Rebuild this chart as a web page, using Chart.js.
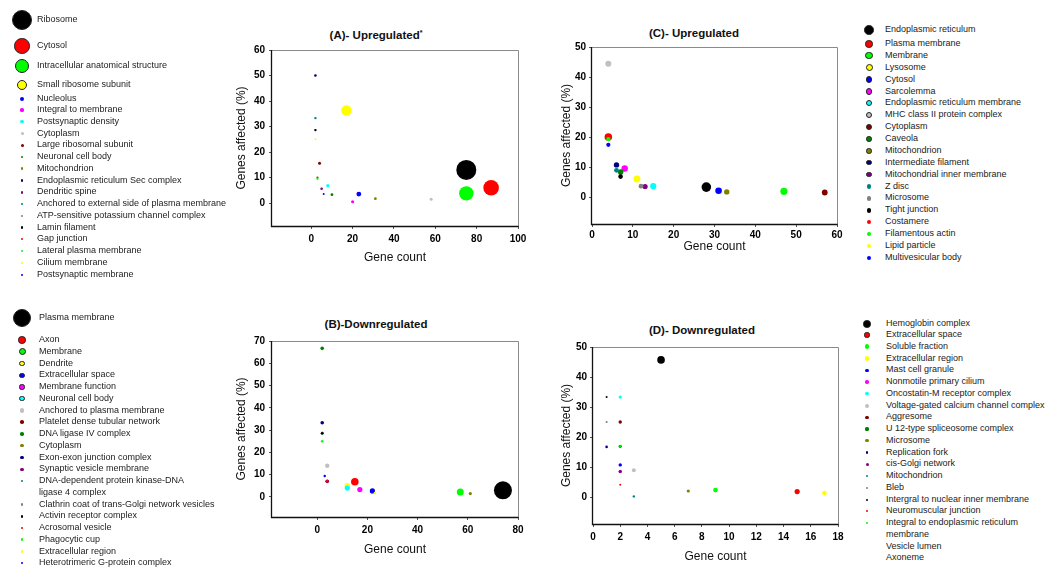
<!DOCTYPE html>
<html>
<head>
<meta charset="utf-8">
<script src="https://cdn.jsdelivr.net/npm/chart.js@4.4.1/dist/chart.umd.min.js"></script>
<style>
  body { margin: 0; background: #fff; width: 1055px; height: 570px; position: relative; overflow: hidden;
         font-family: "Liberation Sans", Arial, sans-serif; }
  canvas { position: absolute; }
  .title { position: absolute; font-weight: bold; font-size: 11.5px; color: #111; white-space: nowrap;
           transform: translate(-50%, -50%); }
  .title sup { font-size: 7px; }
  .lg { position: absolute; font-size: 9px; line-height: 11.75px; color: #222; white-space: nowrap; }
  .mk { position: absolute; border-radius: 50%; box-sizing: border-box; }
</style>
</head>
<body>
<div class="title" style="left:376px;top:35px">(A)- Upregulated<sup>*</sup></div>
<div class="title" style="left:376px;top:324px">(B)-Downregulated</div>
<div class="title" style="left:694px;top:33px">(C)- Upregulated</div>
<div class="title" style="left:702px;top:330px">(D)- Downregulated</div>
<canvas id="chartA" width="320" height="250" style="left:220px;top:20px"></canvas>
<canvas id="chartB" width="320" height="250" style="left:220px;top:310px"></canvas>
<canvas id="chartC" width="305" height="250" style="left:545px;top:15px"></canvas>
<canvas id="chartD" width="305" height="250" style="left:545px;top:315px"></canvas>
<script>
// (A) upregulated
const namesA = ["Ribosome", "Cytosol", "Intracellular anatomical structure", "Small ribosome subunit", "Nucleolus",
  "Integral to membrane", "Postsynaptic density", "Cytoplasm", "Large ribosomal subunit", "Neuronal cell body",
  "Mitochondrion", "Endoplasmic reticulum Sec complex", "Dendritic spine", "Anchored to external side of plasma membrane",
  "ATP-sensitive potassium channel complex", "Lamin filament", "Gap junction", "Lateral plasma membrane",
  "Cilium membrane", "Postsynaptic membrane"];
const countA = [75, 87, 75, 17, 23, 20, 8, 58, 4, 10, 31, 2, 5, 2, 2, 2, 3, 3, 2, 6];
const pctA = [13, 6, 3.8, 36.3, 3.5, 0.5, 6.8, 1.5, 15.6, 3.3, 1.7, 50, 5.6, 33.3, 28.6, 28.6, 10, 9.5, 25, 3.5];

// (B) downregulated
const namesB = ["Plasma membrane", "Axon", "Membrane", "Dendrite", "Extracellular space", "Membrane function",
  "Neuronal cell body", "Anchored to plasma membrane", "Platelet dense tubular network", "DNA ligase IV complex",
  "Cytoplasm", "Exon-exon junction complex", "Synaptic vesicle membrane",
  ["DNA-dependent protein kinase-DNA", "ligase 4 complex"], "Clathrin coat of trans-Golgi network vesicles",
  "Activin receptor complex", "Acrosomal vesicle", "Phagocytic cup", "Extracellular region",
  "Heterotrimeric G-protein complex"];
const countB = [74, 15, 57, 12, 22, 17, 12, 4, 4, 2, 61, 2, 4, 2, 2, 2, 4, 2, 23, 3];
const pctB = [3, 6.8, 2.2, 5, 2.7, 3.3, 4, 14, 7, 66.7, 1.5, 33.3, 7, 28.6, 28.6, 28.6, 7, 25, 1.8, 9.4];

// (C) upregulated
const namesC = ["Endoplasmic reticulum", "Plasma membrane", "Membrane", "Lysosome", "Cytosol", "Sarcolemma",
  "Endoplasmic reticulum membrane", "MHC class II protein complex", "Cytoplasm", "Caveola", "Mitochondrion",
  "Intermediate filament", "Mitochondrial inner membrane", "Z disc", "Microsome", "Tight junction", "Costamere",
  "Filamentous actin", "Lipid particle", "Multivesicular body"];
const countC = [28, 4, 47, 11, 31, 8, 15, 4, 57, 7, 33, 6, 13, 6, 12, 7, 4, 4, 11, 4];
const pctC = [3.3, 20, 1.9, 6, 2.1, 9.5, 3.6, 44.4, 1.5, 8.3, 1.7, 10.7, 3.5, 8.9, 3.6, 6.8, 20, 19.3, 6, 17.4];

// (D) downregulated
const namesD = ["Hemoglobin complex", "Extracellular space", "Soluble fraction", "Extracellular region",
  "Mast cell granule", "Nonmotile primary cilium", "Oncostatin-M receptor complex",
  "Voltage-gated calcium channel complex", "Aggresome", "U 12-type spliceosome complex", "Microsome",
  "Replication fork", "cis-Golgi network", "Mitochondrion", "Bleb", "Intergral to nuclear inner membrane",
  "Neuromuscular junction", ["Integral to endoplasmic reticulum", "membrane"], "Vesicle lumen", "Axoneme"];
const countD = [5, 15, 9, 17, 2, 2, 2, 3, 2, 2, 7, 1, 2, 3, 1, 1, 2, 2, 1, 1];
const pctD = [45.7, 1.8, 2.3, 1.3, 10.7, 8.5, 33.3, 8.9, 25, 16.9, 2, 16.7, 8.5, 0.2, 25, 33.3, 4.1, 16.9, 33.3, 16.7];

// tick labels
const ticksXA = [0, 20, 40, 60, 80, 100];
const ticksYA = [0, 10, 20, 30, 40, 50, 60];
const ticksXB = [0, 20, 40, 60, 80];
const ticksYB = [0, 10, 20, 30, 40, 50, 60, 70];
const ticksXC = [0, 10, 20, 30, 40, 50, 60];
const ticksYC = [0, 10, 20, 30, 40, 50];
const ticksXD = [0, 2, 4, 6, 8, 10, 12, 14, 16, 18];
const ticksYD = [0, 10, 20, 30, 40, 50];

// styles: sigmaplot style colour cycle and symbol radii
const COLORS = ["#000000", "#ff0000", "#00ff00", "#ffff00", "#0000ff", "#ff00ff", "#00ffff", "#c0c0c0",
  "#800000", "#008000", "#808000", "#000080", "#800080", "#008080", "#808080",
  "#000000", "#ff0000", "#00ff00", "#ffff00", "#0000ff"];
const sizeA = [10, 7.8, 7.2, 5.2, 2.4, 1.6, 1.6, 1.5, 1.5, 1.4, 1.4, 1.3, 1.3, 1.2, 1.2, 1.1, 1.1, 1.1, 1, 1];
const sizeB = [9, 3.8, 3.5, 2.8, 2.6, 2.6, 2.6, 2.2, 1.8, 1.8, 1.6, 1.8, 1.6, 1.4, 1.4, 1.3, 1.3, 1.3, 1.2, 1.2];
const sizeC = [4.8, 3.8, 3.6, 3.5, 3.3, 3.2, 3.1, 3, 2.9, 2.8, 2.7, 2.7, 2.6, 2.4, 2.4, 2.3, 2.2, 2.2, 2.1, 2.1];
const sizeD = [3.8, 2.6, 2.3, 2.3, 1.7, 1.7, 1.6, 2, 1.7, 1.6, 1.6, 1.3, 1.5, 1.2, 1.1, 1, 1, 1, 0, 0];

const FONT = "'Liberation Sans', Arial, sans-serif";

// draw the box round the plot area
const framePlugin = {
  id: "frame",
  beforeDatasetsDraw(chart) {
    const { ctx, chartArea: { left, top, right, bottom } } = chart;
    ctx.save();
    ctx.lineWidth = 1;
    ctx.strokeStyle = "#8a8a8a";
    ctx.beginPath();
    ctx.moveTo(left, top + 0.5);
    ctx.lineTo(right + 0.5, top + 0.5);
    ctx.lineTo(right + 0.5, bottom);
    ctx.stroke();
    ctx.strokeStyle = "#111";
    ctx.lineWidth = 1.3;
    ctx.beginPath();
    ctx.moveTo(left - 0.5, top);
    ctx.lineTo(left - 0.5, bottom + 0.5);
    ctx.lineTo(right + 0.5, bottom + 0.5);
    ctx.stroke();
    ctx.restore();
  },
};

const panels = [
  { id: "chartA", x: countA, y: pctA, r: sizeA, xt: ticksXA, yt: ticksYA, xMin: -19, xMax: 100, yMin: -9, yMax: 60,
    box: [220, 20, 320, 250], area: [272, 50, 518, 226], xGap: 7, yGap: 7, xTitlePad: 4.8, yTitlePad: 14.8 },
  { id: "chartB", x: countB, y: pctB, r: sizeB, xt: ticksXB, yt: ticksYB, xMin: -18, xMax: 80, yMin: -9, yMax: 70,
    box: [220, 310, 320, 250], area: [272, 341, 518, 517], xGap: 7, yGap: 7, xTitlePad: 2.8, yTitlePad: 14.8 },
  { id: "chartC", x: countC, y: pctC, r: sizeC, xt: ticksXC, yt: ticksYC, xMin: 0, xMax: 60, yMin: -9, yMax: 50,
    box: [545, 15, 305, 250], area: [592, 47, 837, 224], xGap: 5, yGap: 6, xTitlePad: 10.8, yTitlePad: 14.8 },
  { id: "chartD", x: countD, y: pctD, r: sizeD, xt: ticksXD, yt: ticksYD, xMin: 0, xMax: 18, yMin: -9, yMax: 50,
    box: [545, 315, 305, 250], area: [593, 347, 838, 524], xGap: 7, yGap: 6, xTitlePad: 0.8, yTitlePad: 14.8 },
];

panels.forEach((p) => {
  const [bx, by, bw, bh] = p.box;
  const [L, T, R, B] = p.area;
  new Chart(document.getElementById(p.id), {
    type: "scatter",
    data: {
      datasets: [{
        data: p.x.map((v, i) => ({ x: v, y: p.y[i] })),
        backgroundColor: COLORS,
        borderColor: COLORS,
        borderWidth: 0,
        pointRadius: p.r,
        pointHoverRadius: p.r,
      }],
    },
    options: {
      responsive: false,
      animation: false,
      events: [],
      layout: { padding: { left: 0, top: T - by, right: bx + bw - R, bottom: 0 } },
      plugins: { legend: { display: false }, tooltip: { enabled: false } },
      scales: {
        x: {
          type: "linear", min: p.xMin, max: p.xMax,
          afterBuildTicks: (s) => { s.ticks = p.xt.map((v) => ({ value: v })); },
          afterFit: (s) => { s.height = by + bh - B; },
          grid: { drawOnChartArea: false, tickLength: 3, color: "#555" },
          border: { display: false },
          ticks: { padding: p.xGap - 3, autoSkip: false, maxRotation: 0, color: "#000",
                   font: { family: FONT, size: 10, weight: "bold" } },
          title: { display: true, text: "Gene count", color: "#111",
                   font: { family: FONT, size: 12 }, padding: { top: 0, bottom: p.xTitlePad } },
        },
        y: {
          type: "linear", min: p.yMin, max: p.yMax,
          afterBuildTicks: (s) => { s.ticks = p.yt.map((v) => ({ value: v })); },
          afterFit: (s) => { s.width = L - bx; },
          grid: { drawOnChartArea: false, tickLength: 3, color: "#555" },
          border: { display: false },
          ticks: { padding: p.yGap - 3, autoSkip: false, color: "#000",
                   font: { family: FONT, size: 10, weight: "bold" } },
          title: { display: true, text: "Genes affected (%)", color: "#111",
                   font: { family: FONT, size: 12 }, padding: { top: p.yTitlePad, bottom: 0 } },
        },
      },
    },
    plugins: [framePlugin],
  });
});

// legends, drawn as html beside each plot
const legends = [
  { names: namesA, r: sizeA, mx: 22, tx: 37, top: [20, 46, 66, 85, 99], y0: 110, dy: 11.75 },
  { names: namesB, r: sizeB, mx: 22, tx: 39, top: [318], y0: 340, dy: 11.75 },
  { names: namesC, r: sizeC, mx: 869, tx: 885, top: [30], y0: 44, dy: 11.88 },
  { names: namesD, r: sizeD, mx: 867, tx: 886, top: [324], y0: 335, dy: 11.75 },
];

legends.forEach((lg) => {
  let extra = 0;
  lg.names.forEach((name, i) => {
    const y = i < lg.top.length ? lg.top[i] : lg.y0 + lg.dy * (i - lg.top.length + extra);
    const lines = Array.isArray(name) ? name : [name];
    extra += lines.length - 1;
    const r = lg.r[i];
    if (r > 0) {
      const mk = document.createElement("div");
      mk.className = "mk";
      const d = Math.max(2 * r, 1.6);
      mk.style.left = (lg.mx - d / 2) + "px";
      mk.style.top = (y - d / 2) + "px";
      mk.style.width = d + "px";
      mk.style.height = d + "px";
      mk.style.background = COLORS[i];
      if (r >= 2.5) mk.style.border = "1px solid #222";
      document.body.appendChild(mk);
    }
    const t = document.createElement("div");
    t.className = "lg";
    t.style.left = lg.tx + "px";
    t.style.top = (y - 6) + "px";
    t.innerHTML = lines.join("<br>");
    document.body.appendChild(t);
  });
});
</script>
</body>
</html>
